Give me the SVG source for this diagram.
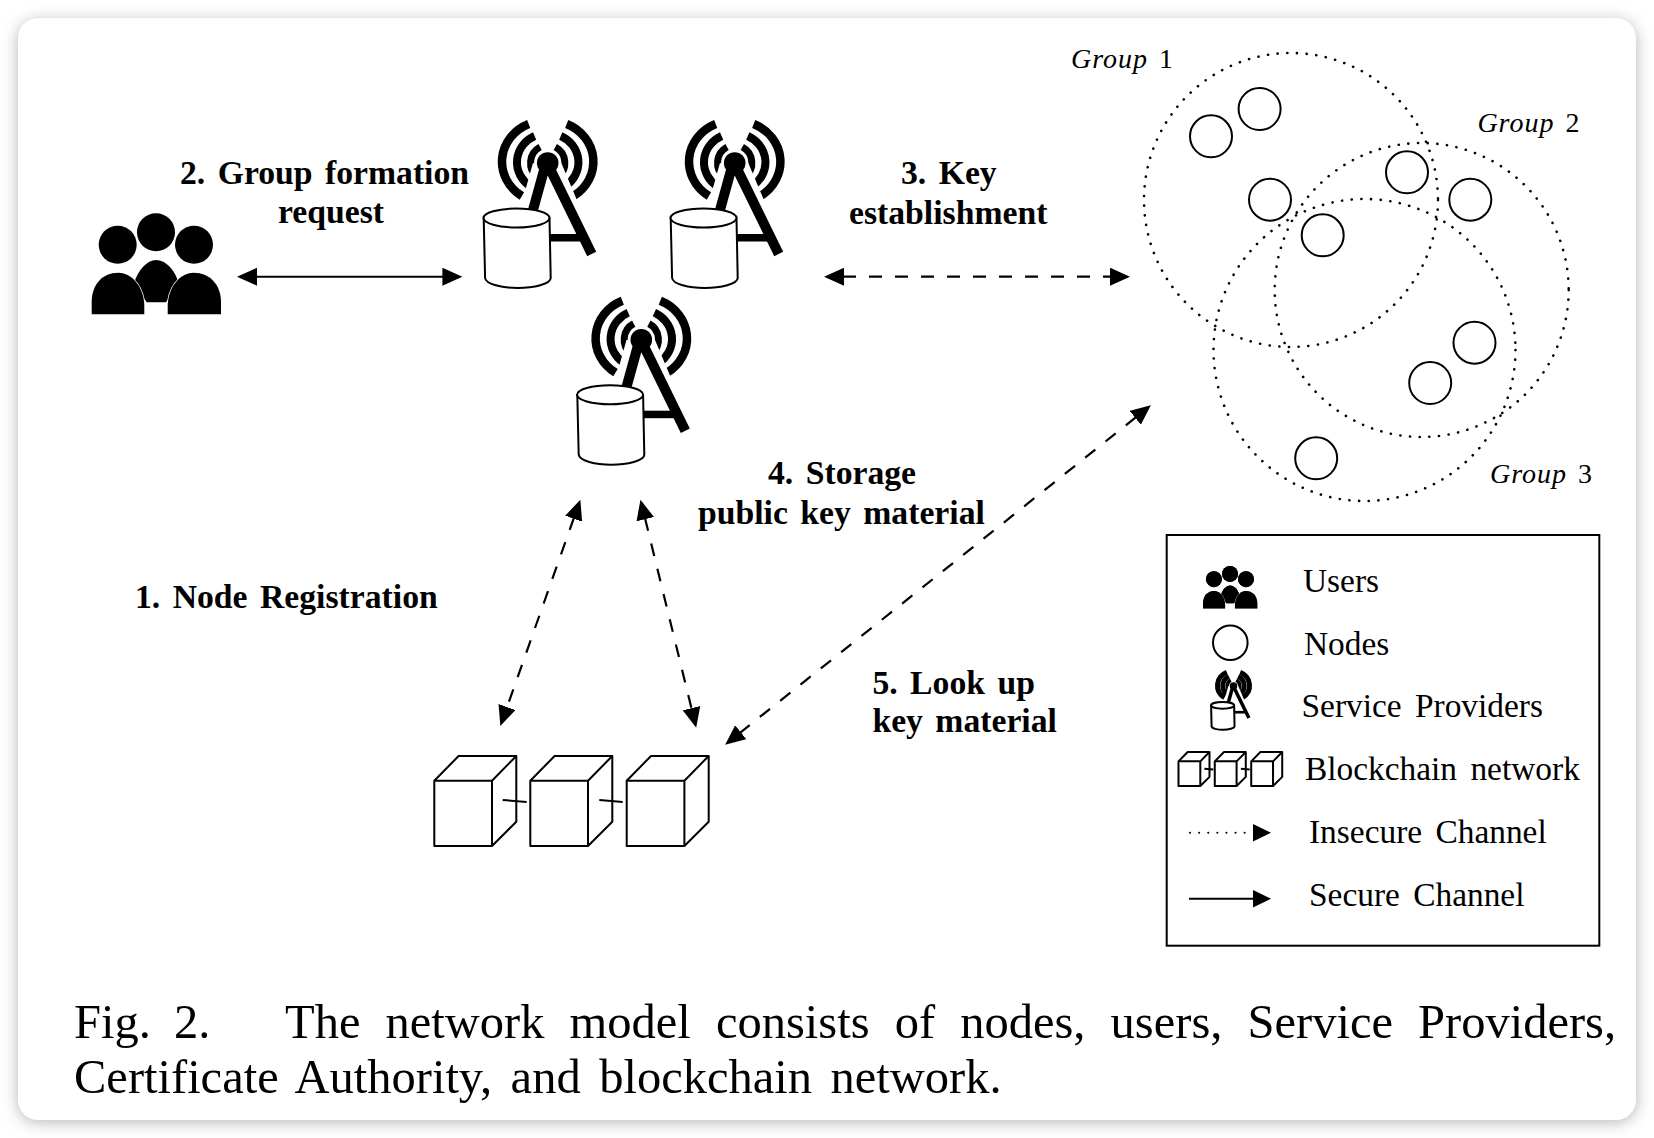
<svg xmlns="http://www.w3.org/2000/svg" width="1654" height="1138" viewBox="0 0 1654 1138">
<style>
text{font-family:"Liberation Serif","Times New Roman",serif;fill:#000}
.lab{font-size:33.700px;font-weight:bold;word-spacing:4px}
.leg{font-size:33.400px;word-spacing:5px}
.grp{font-size:28px;font-style:italic;letter-spacing:1px;word-spacing:3px}
.grp tspan{font-style:normal}
.cap{font-size:48.500px}
.ln{fill:none;stroke:#000;stroke-width:2}
.dash{fill:none;stroke:#000;stroke-width:2.200;stroke-dasharray:13 13}
.dots{fill:none;stroke:#000;stroke-width:2.600;stroke-linecap:round;stroke-dasharray:0.1 9.6}
.node{fill:none;stroke:#000;stroke-width:2}
.box{fill:#fff;stroke:#000;stroke-width:2;stroke-linejoin:round;vector-effect:non-scaling-stroke}
.b1,.b2,.b3{fill:none;stroke:#000}
.b1{stroke-width:calc(8.500px*var(--k,1))}
.b2{stroke-width:calc(8px*var(--k,1))}
.b3{stroke-width:calc(7px*var(--k,1))}
</style>
<defs>
<filter id="sh" x="-5%" y="-5%" width="110%" height="110%"><feGaussianBlur stdDeviation="8"/></filter>
<filter id="soft" x="-10%" y="-10%" width="120%" height="120%"><feGaussianBlur stdDeviation="1"/></filter>
<marker id="ah" markerUnits="userSpaceOnUse" markerWidth="21" markerHeight="19" refX="1" refY="9" orient="auto-start-reverse"><path d="M0 0L20 9L0 18Z" fill="#000"/></marker>
<g id="tower">
<g class="b1"><path d="M-19 -36A44 41 0 0 0 -25.800 36"/><path d="M19 -36A44 41 0 0 1 25.800 36"/></g>
<g class="b2"><path d="M-13.100 -24A30.500 29 0 0 0 -17.800 26"/><path d="M13.100 -24A30.500 29 0 0 1 17.800 26"/></g>
<g class="b3"><path d="M-7.600 -13A18 18 0 0 0 -10.300 17"/><path d="M7.600 -13A18 18 0 0 1 10.300 17"/></g>
<path d="M-8 5L-24 62M6 3L46 98" fill="none" stroke="#fff" stroke-width="14"/>
<circle cx="0" cy="3" r="13" fill="#fff"/>
<circle cx="0" cy="3" r="10.800" fill="#000"/>
<path d="M-2 4L-18 62M0 4L44 94" fill="none" stroke="#000" stroke-width="10"/>
<rect x="0" y="74" width="33" height="7.500" fill="#000"/>
<path class="box" d="M-64 58L-62.600 118C-62 124 -46 128 -30 128C-14 128 3 124 3 118L1.800 58Z"/>
<ellipse class="box" cx="-31.200" cy="58" rx="33" ry="9.500"/>
</g>
<g id="crowd">
<path d="M133.700 284C138 270 147 260 156 260C166 260 175 270 179 284L166 302.300H146.700Z" fill="#000"/>
<circle cx="156" cy="232.300" r="19" fill="#000"/>
<circle cx="117.700" cy="244.700" r="19" fill="#000"/>
<circle cx="194" cy="244.700" r="19" fill="#000"/>
<path d="M91.700 314.300V302C91.700 284 103 272.700 118 272.700C134 272.700 144.300 290 144.300 306V314.300Z" fill="#000" stroke="#fff" stroke-width="1.500" paint-order="stroke"/>
<path d="M167.700 314.300V306C167.700 290 178 272.700 194 272.700C209 272.700 221 284 221 302V314.300Z" fill="#000" stroke="#fff" stroke-width="1.500" paint-order="stroke"/>
</g>
<g id="cube"><path class="box" d="M0 0L24.300 -24.700H82V41L57.700 65.300H0Z"/><path class="box" d="M0 0H57.700V65.300M57.700 0L82 -24.700" fill="none"/></g>
<g id="chain">
<use href="#cube" x="434.300" y="780.700"/>
<use href="#cube" x="530.300" y="780.700"/>
<use href="#cube" x="626.700" y="780.700"/>
<path class="box" d="M502.700 800L526.700 802M599.300 800L622.700 802" fill="none"/>
</g>
</defs>
<rect width="1654" height="1138" fill="#fff"/>
<rect x="18" y="21" width="1618" height="1101" rx="20" fill="#b4b4b4" filter="url(#sh)"/>
<rect id="card" x="18" y="18" width="1618" height="1102" rx="20" fill="#fff"/>

<g id="connectors">
<line class="ln" x1="256" y1="276.700" x2="443.400" y2="276.700" marker-start="url(#ah)" marker-end="url(#ah)"/>
<line class="dash" x1="843" y1="276.700" x2="1111" y2="276.700" marker-start="url(#ah)" marker-end="url(#ah)"/>
<line class="dash" x1="574" y1="517.700" x2="506.700" y2="708" marker-start="url(#ah)" marker-end="url(#ah)"/>
<line class="dash" x1="645" y1="518.200" x2="691.700" y2="709.200" marker-start="url(#ah)" marker-end="url(#ah)"/>
<line class="dash" x1="1136" y1="417.200" x2="740" y2="732.800" marker-start="url(#ah)" marker-end="url(#ah)"/>
</g>

<g id="users"><use href="#crowd"/></g>
<g id="sp1"><use href="#tower" x="547.700" y="160"/></g>
<g id="sp2"><use href="#tower" x="734.700" y="160"/></g>
<g id="sp3"><use href="#tower" x="641.300" y="336.700"/></g>
<g id="blockchain"><use href="#chain"/></g>

<g id="groups">
<circle class="dots" cx="1291" cy="200" r="147"/>
<circle class="dots" cx="1421.700" cy="290" r="147"/>
<circle class="dots" cx="1364.500" cy="350" r="151"/>
</g>
<g id="nodes">
<circle class="node" cx="1211" cy="136.300" r="21"/>
<circle class="node" cx="1259.600" cy="109" r="21"/>
<circle class="node" cx="1270" cy="199.700" r="21"/>
<circle class="node" cx="1407" cy="172.300" r="21"/>
<circle class="node" cx="1470.300" cy="199.700" r="21"/>
<circle class="node" cx="1322.700" cy="235.300" r="21"/>
<circle class="node" cx="1474.500" cy="342.700" r="21"/>
<circle class="node" cx="1430.200" cy="383" r="21"/>
<circle class="node" cx="1316.200" cy="458.300" r="21"/>
</g>
<g id="group-labels">
<text class="grp" x="1071" y="68">Group <tspan>1</tspan></text>
<text class="grp" x="1477.400" y="131.700">Group <tspan>2</tspan></text>
<text class="grp" x="1490" y="483.300">Group <tspan>3</tspan></text>
</g>
<g id="step-labels">
<text class="lab" x="180" y="183.500">2. Group formation</text>
<text class="lab" x="278" y="223.300">request</text>
<text class="lab" x="901" y="183.600">3. Key</text>
<text class="lab" x="849" y="223.600">establishment</text>
<text class="lab" x="768" y="484">4. Storage</text>
<text class="lab" x="698" y="524">public key material</text>
<text class="lab" x="135" y="607.500">1. Node Registration</text>
<text class="lab" x="872.400" y="694">5. Look up</text>
<text class="lab" x="872.400" y="732">key material</text>
</g>
<g id="legend">
<rect x="1166.700" y="535" width="432.600" height="410.700" fill="none" stroke="#000" stroke-width="2"/>
<use href="#crowd" transform="translate(1164.500 476.400) scale(.42)" filter="url(#soft)"/>
<use href="#crowd" transform="translate(1164.500 476.400) scale(.42)"/>
<circle class="node" cx="1230.300" cy="642.700" r="17.300"/>
<use href="#tower" transform="translate(1233.500 685) scale(.35)" style="--k:1.700"/>
<use href="#chain" transform="translate(1178 752) scale(.378) translate(-433 -756)"/>
<line x1="1190" y1="832.700" x2="1253" y2="832.700" fill="none" stroke="#000" stroke-width="2" stroke-linecap="round" stroke-dasharray="0.1 9"/>
<path d="M1253 824L1271 832.700L1253 841.400Z" fill="#000"/>
<line class="ln" x1="1189" y1="898.700" x2="1254" y2="898.700"/>
<path d="M1253 890L1271 898.700L1253 907.400Z" fill="#000"/>
<text class="leg" x="1303" y="591.500">Users</text>
<text class="leg" x="1304" y="654.500">Nodes</text>
<text class="leg" x="1301.500" y="717">Service Providers</text>
<text class="leg" x="1305" y="780">Blockchain network</text>
<text class="leg" x="1309" y="843">Insecure Channel</text>
<text class="leg" x="1309" y="905.500">Secure Channel</text>
</g>
<g id="caption">
<text class="cap" x="74" y="1038.300" style="word-spacing:11px">Fig. 2.</text>
<text class="cap" x="285" y="1038.300" style="word-spacing:13px">The network model consists of nodes, users, Service Providers,</text>
<text class="cap" x="74" y="1093.300" style="word-spacing:6.400px">Certificate Authority, and blockchain network.</text>
</g>
</svg>
